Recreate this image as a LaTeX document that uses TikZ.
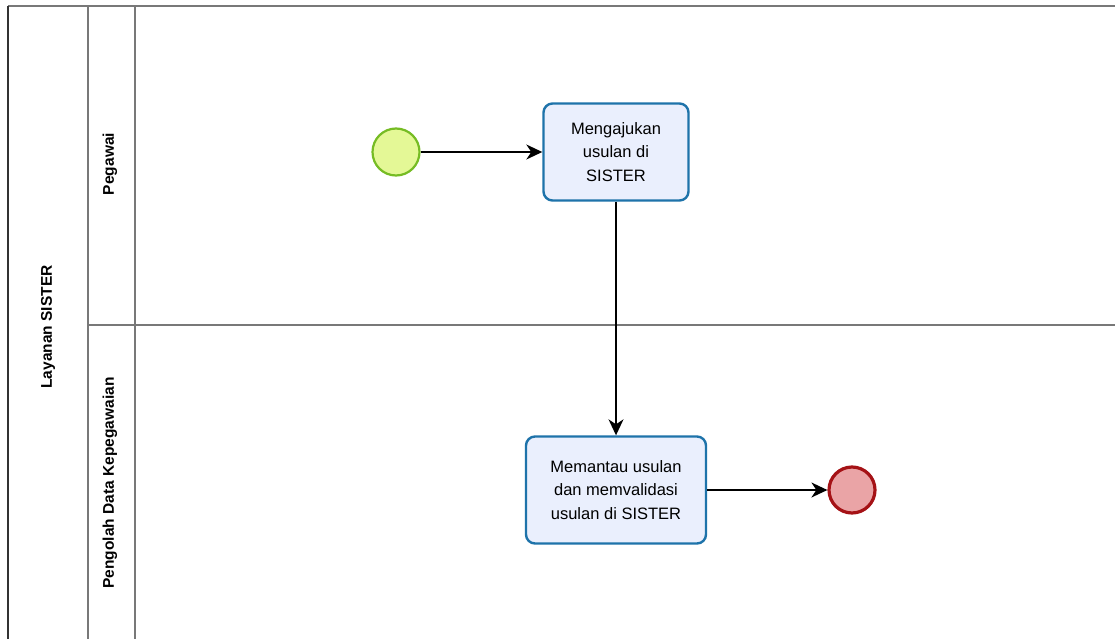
\documentclass[tikz,border=0pt]{standalone}
\usepackage{fontspec}
\setmainfont{Liberation Sans}
\usetikzlibrary{arrows.meta,positioning}

\definecolor{poolgray}{RGB}{120,120,120}
\definecolor{taskblue}{RGB}{30,115,170}
\definecolor{taskfill}{RGB}{234,239,253}
\definecolor{startline}{RGB}{118,188,36}
\definecolor{startfill}{RGB}{228,248,150}
\definecolor{endline}{RGB}{165,18,22}
\definecolor{endfill}{RGB}{234,164,166}

\tikzset{
  task/.style={draw=taskblue,line width=2.4pt,fill=taskfill,rounded corners=9pt,
    align=center,font=\fontsize{16.5}{23.5}\selectfont,inner sep=0pt},
  startev/.style={circle,draw=startline,line width=2.2pt,fill=startfill,minimum size=47pt,inner sep=0pt},
  endev/.style={circle,draw=endline,line width=3.2pt,fill=endfill,minimum size=46pt,inner sep=0pt},
  lanetext/.style={rotate=90,font=\fontsize{15.5}{18}\selectfont\bfseries},
  flow/.style={-{Stealth[length=16pt,width=15pt,inset=5pt]},line width=1.5pt}
}

\begin{document}
\begin{tikzpicture}[x=1pt,y=-1pt]
  \useasboundingbox (0,0) rectangle (1115,639);
  \fill[white] (0,0) rectangle (1115,639);
  % pool and lanes
  \draw[poolgray,line width=1.8pt] (8,6) -- (1115,6);
  \draw[black!80,line width=1.8pt] (8,6) -- (8,639);
  \draw[poolgray,line width=1.8pt] (88,6) -- (88,639);
  \draw[poolgray,line width=1.8pt] (135,6) -- (135,639);
  \draw[poolgray,line width=1.8pt] (88,325) -- (1115,325);
  \node[lanetext] (pool) at (48,327) {Layanan SISTER};
  \node[lanetext] (lane1) at (110,164) {Pegawai};
  \node[lanetext] (lane2) at (110,483) {Pengolah Data Kepegawaian};
  % events and tasks
  \node[startev] (start) at (396,152) {};
  \node[task,minimum width=145pt,minimum height=97pt] (ajukan) at (616,152)
    {Mengajukan\\usulan di\\SISTER};
  \node[task,minimum width=180pt,minimum height=107pt] (pantau) at (616,490)
    {Memantau usulan\\dan memvalidasi\\usulan di SISTER};
  \node[endev] (end) at (852,490) {};
  % flows
  \draw[flow] (start) -- (ajukan);
  \draw[flow] (ajukan) -- (pantau);
  \draw[flow] (pantau) -- (end);
\end{tikzpicture}
\end{document}
